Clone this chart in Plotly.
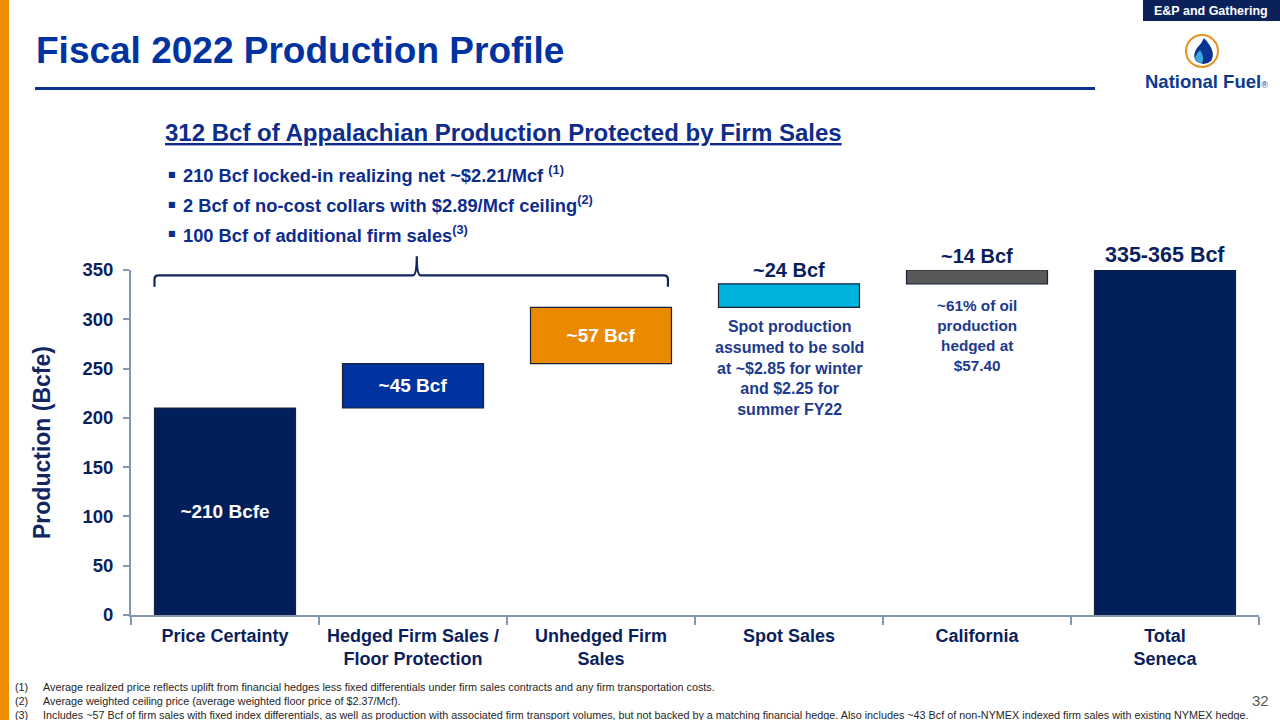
import plotly.graph_objects as go

# ---------------- data ----------------
categories = ["Price Certainty", "Hedged Firm Sales /<br>Floor Protection", "Unhedged Firm<br>Sales",
              "Spot Sales", "California", "Total<br>Seneca"]
bar_base = [0, 210, 255, 312, 336, 0]
bar_value = [210, 45, 57, 24, 14, 350]
bar_colors = ["#021F5C", "#0033A0", "#E98A00", "#00B2DE", "#58595B", "#00205B"]
inside_labels = ["~210 Bcfe", "~45 Bcf", "~57 Bcf", "", "", ""]
above_labels = ["", "", "", "~24 Bcf", "~14 Bcf", "335-365 Bcf"]
above_sizes = [0, 0, 0, 20, 20, 21.5]
y_ticks = [0, 50, 100, 150, 200, 250, 300, 350]

title_text = "Fiscal 2022 Production Profile"
subtitle_text = "312 Bcf of Appalachian Production Protected by Firm Sales"
bullets = ["210 Bcf locked-in realizing net ~$2.21/Mcf <sup>(1)</sup>",
           "2 Bcf of no-cost collars with $2.89/Mcf ceiling<sup>(2)</sup>",
           "100 Bcf of additional firm sales<sup>(3)</sup>"]
spot_note = "Spot production<br>assumed to be sold<br>at ~$2.85 for winter<br>and $2.25 for<br>summer FY22"
cal_note = "~61% of oil<br>production<br>hedged at<br>$57.40"
footnote_nums = ["(1)", "(2)", "(3)"]
footnotes = [
    "Average realized price reflects uplift from financial hedges less fixed differentials under firm sales contracts and any firm transportation costs.",
    "Average weighted ceiling price (average weighted floor price of $2.37/Mcf).",
    "Includes ~57 Bcf of firm sales with fixed index differentials, as well as production with associated firm transport volumes, but not backed by a matching financial hedge. Also includes ~43 Bcf of non-NYMEX indexed firm sales with existing NYMEX hedge.",
]

# ---------------- layout geometry ----------------
W, H = 1280, 720
L, R, T, B = 131, 21, 270, 105
PW, PH = W - L - R, H - T - B
YMAX = 350
FONT = "Liberation Sans, Arial, sans-serif"
NAVY = "#0B1F5C"
BLUE = "#0033A0"


def px(x):
    return (x - L) / PW


def py(y):
    return (H - B - y) / PH


def ann(x, y, text, size, color, xanchor="center", yanchor="middle", family=FONT, **kw):
    d = dict(x=px(x), y=py(y), xref="paper", yref="paper", text=text, showarrow=False,
             xanchor=xanchor, yanchor=yanchor, font=dict(family=family, size=size, color=color))
    d.update(kw)
    return d


fig = go.Figure()
fig.add_trace(go.Bar(
    x=categories, y=bar_value, base=bar_base,
    marker=dict(color=bar_colors, line=dict(color="#1B2236", width=1.2)),
    width=0.75, text=["<b>%s</b>" % t if t else "" for t in inside_labels],
    textposition="inside", insidetextanchor="middle",
    textfont=dict(family=FONT, size=19, color="white"), showlegend=False, hoverinfo="skip",
))

annotations = []
shapes = []

# labels above bars
for i, lab in enumerate(above_labels):
    if lab:
        annotations.append(dict(x=categories[i], y=bar_base[i] + bar_value[i], xref="x", yref="y",
                                text="<b>%s</b>" % lab, showarrow=False, xanchor="center",
                                yanchor="bottom", yshift=1,
                                font=dict(family=FONT, size=above_sizes[i], color=NAVY)))

# notes under spot and california bars
annotations.append(dict(x=categories[3], y=bar_base[3], xref="x", yref="y", text="<b>%s</b>" % spot_note,
                        showarrow=False, xanchor="center", yanchor="top", yshift=-9,
                        font=dict(family=FONT, size=16, color="#1E3A8C")))
annotations.append(dict(x=categories[4], y=bar_base[4], xref="x", yref="y", text="<b>%s</b>" % cal_note,
                        showarrow=False, xanchor="center", yanchor="top", yshift=-11,
                        font=dict(family=FONT, size=15.3, color="#1E3A8C")))

# y axis title
annotations.append(ann(42, 443, "<b>Production (Bcfe)</b>", 23, "#12275F", textangle=-90))

# title
annotations.append(ann(34, 50, "<b>%s</b>" % title_text, 37, BLUE, xanchor="left"))
shapes.append(dict(type="line", xref="paper", yref="paper", x0=px(35), x1=px(1095),
                   y0=py(88.5), y1=py(88.5), line=dict(color="#0B2E91", width=3)))

# subtitle and bullets
annotations.append(ann(163, 133, "<b><u>%s</u></b>" % subtitle_text, 24, "#0D2C8C", xanchor="left"))
for k, btxt in enumerate(bullets):
    yy = 174 + 30 * k
    annotations.append(ann(166, yy, "■", 8, "#0D2C8C", xanchor="left", family="DejaVu Sans"))
    annotations.append(ann(181, yy, "<b>%s</b>" % btxt, 18.3, "#0D2C8C", xanchor="left"))


# brace over first three bars
def dx(i):  # category index -> x domain
    return (i + 0.5) / len(categories)


def dy(v):
    return v / YMAX


bl, br_, bm = dx(-0.375), dx(2.356), dx(1.02)
yh, ye, yp = dy(344.5), dy(333), dy(364)
rx = 4 / PW
ry = 4 / PH
brace = (f"M {bl},{ye} L {bl},{yh - ry} Q {bl},{yh} {bl + rx},{yh} "
         f"L {bm - rx},{yh} Q {bm},{yh} {bm},{yp} Q {bm},{yh} {bm + rx},{yh} "
         f"L {br_ - rx},{yh} Q {br_},{yh} {br_},{yh - ry} L {br_},{ye}")
shapes.append(dict(type="path", xref="x domain", yref="y domain", path=brace,
                   line=dict(color="#12275F", width=2.2)))

# left orange strip
shapes.append(dict(type="rect", xref="paper", yref="paper", x0=px(0), x1=px(9), y0=py(720), y1=py(0),
                   fillcolor="#EE8C00", line=dict(width=0), layer="above"))

# E&P tab
shapes.append(dict(type="rect", xref="paper", yref="paper", x0=px(1143), x1=px(1280), y0=py(21), y1=py(0),
                   fillcolor="#0A2259", line=dict(width=0)))
annotations.append(ann(1211, 11, "<b>E&P and Gathering</b>", 12.5, "white"))

# logo
shapes.append(dict(type="circle", xref="paper", yref="paper", x0=px(1186), x1=px(1218), y0=py(67), y1=py(35),
                   line=dict(color="#E8911E", width=2), fillcolor="white"))


def pth(pts):
    s = "M %f,%f" % (px(pts[0][0]), py(pts[0][1]))
    i = 1
    while i < len(pts):
        (cx, cy), (ex, ey) = pts[i], pts[i + 1]
        s += " Q %f,%f %f,%f" % (px(cx), py(cy), px(ex), py(ey))
        i += 2
    return s + " Z"


flame = pth([(1204, 38), (1217, 52), (1211, 61), (1204, 67), (1196, 61), (1192, 55), (1197, 48), (1202, 43), (1204, 38)])
shapes.append(dict(type="path", xref="paper", yref="paper", path=flame, fillcolor="#0A3494", line=dict(width=0)))
inner = pth([(1200, 50), (1205, 57), (1202, 63), (1197, 63), (1195, 58), (1196, 54), (1200, 50)])
shapes.append(dict(type="path", xref="paper", yref="paper", path=inner, fillcolor="#3EA9DD", line=dict(width=0)))
annotations.append(ann(1206, 82, "<b>National Fuel</b><span style='font-size:9px'>®</span>", 18.5, "#0B3A8E"))

# footnotes
annotations.append(ann(13, 679, "<br>".join(footnote_nums), 10.8, "#262626", xanchor="left", yanchor="top",
                       align="left"))
annotations.append(ann(41, 679, "<br>".join(footnotes), 10.8, "#262626", xanchor="left", yanchor="top",
                       align="left"))
annotations.append(ann(1260, 700, "32", 15, "#595959"))

fig.update_layout(
    width=W, height=H, margin=dict(l=L, r=R, t=T, b=B),
    paper_bgcolor="white", plot_bgcolor="white",
    font=dict(family=FONT, color=NAVY),
    bargap=0.25, showlegend=False,
    annotations=annotations, shapes=shapes,
    uniformtext=dict(minsize=8, mode="show"),
)
fig.update_xaxes(
    type="category", categoryorder="array", categoryarray=categories,
    tickson="boundaries",
    ticks="outside", ticklen=8, tickcolor="#8497B0", tickwidth=1.5, ticklabelstandoff=3,
    showline=True, linecolor="#8497B0", linewidth=2, showgrid=False, zeroline=False,
    tickfont=dict(family=FONT, size=18, color=NAVY, weight="bold"),
)
fig.update_yaxes(
    range=[0, YMAX], tickvals=y_ticks,
    ticks="outside", ticklen=6, tickcolor="#8497B0", tickwidth=1.5, ticklabelstandoff=6,
    showline=True, linecolor="#8497B0", linewidth=2, showgrid=False, zeroline=False,
    tickfont=dict(family=FONT, size=18.5, color=NAVY, weight="bold"),
)

fig.write_html("out.html")
